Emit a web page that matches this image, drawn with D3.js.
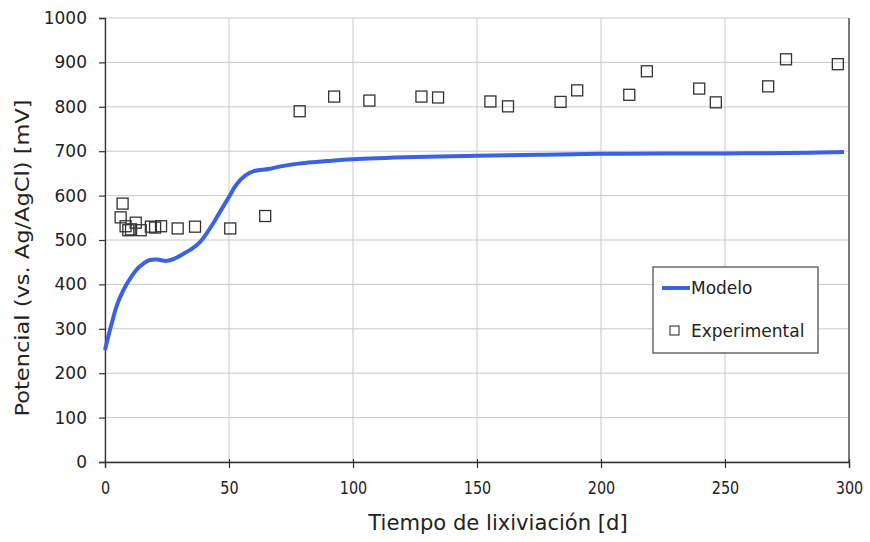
<!DOCTYPE html>
<html>
<head>
<meta charset="utf-8">
<script src="https://cdn.jsdelivr.net/npm/d3@7/dist/d3.min.js"></script>
<style>
  html, body { margin: 0; padding: 0; background: #fff; }
  svg { display: block; }
</style>
</head>
<body>
<svg id="chart" width="870" height="542"></svg>
<script>
// Modelo: simulated electrode potential over leaching time
const modelDays = [0, 2.5, 5, 7.5, 10, 13, 15.5, 18, 21, 25, 28, 32, 35, 38.4, 41, 43, 46, 49.8, 53, 56.5, 60, 66, 72, 78, 90, 100, 125, 150, 175, 200, 225, 250, 275, 298];
const modelMv   = [252, 308, 356, 388, 412, 435, 447, 455, 456, 453, 458, 470, 480, 496, 515, 532, 560, 595, 625, 645, 655, 660, 667, 672, 678, 682, 687, 690, 692, 694, 695, 695, 696, 698];

// Experimental: measured potentials
const expDays = [6.3, 7.1, 8.3, 9.4, 10.5, 12.4, 14.4, 18.5, 20.2, 22.6, 29.3, 36.3, 50.5, 64.6, 78.5, 92.4, 106.6, 127.6, 134.3, 155.4, 162.5, 183.7, 190.4, 211.4, 218.5, 239.6, 246.3, 267.4, 274.6, 295.5];
const expMv   = [551, 582, 531, 522, 524, 539, 522, 530, 528, 531, 526, 530, 526, 554, 790, 823, 814, 823, 821, 812, 801, 811, 837, 827, 880, 841, 810, 846, 907, 896];

const xTicks = [0, 50, 100, 150, 200, 250, 300];
const yTicks = [0, 100, 200, 300, 400, 500, 600, 700, 800, 900, 1000];

const xTitle = "Tiempo de lixiviación [d]";
const yTitle = "Potencial (vs. Ag/AgCl) [mV]";
const seriesNames = ["Modelo", "Experimental"];

const W = 870, H = 542;
const margin = { top: 18, right: 21, bottom: 80, left: 105 };
const pw = W - margin.left - margin.right;
const ph = H - margin.top - margin.bottom;

const svg = d3.select("#chart");
const g = svg.append("g").attr("transform", `translate(${margin.left},${margin.top})`);

const x = d3.scaleLinear().domain([0, 300]).range([0, pw]);
const y = d3.scaleLinear().domain([0, 1000]).range([ph, 0]);

const font = "'DejaVu Sans', Verdana, sans-serif";
const gridColor = "#c9c9c9";
const axisColor = "#333";

// gridlines
g.append("g").selectAll("line").data(yTicks).join("line")
  .attr("x1", 0).attr("x2", pw)
  .attr("y1", d => y(d)).attr("y2", d => y(d))
  .attr("stroke", gridColor).attr("stroke-width", 1);
g.append("g").selectAll("line").data(xTicks).join("line")
  .attr("x1", d => x(d)).attr("x2", d => x(d))
  .attr("y1", 0).attr("y2", ph)
  .attr("stroke", gridColor).attr("stroke-width", 1);

// right frame edge
g.append("line").attr("x1", pw).attr("x2", pw).attr("y1", 0).attr("y2", ph)
  .attr("stroke", axisColor).attr("stroke-width", 1.2);

// axes
const yAxis = g.append("g")
  .call(d3.axisLeft(y).tickValues(yTicks).tickSize(6).tickPadding(12).tickFormat(d3.format("d")));
const xAxis = g.append("g").attr("transform", `translate(0,${ph})`)
  .call(d3.axisBottom(x).tickValues(xTicks).tickSize(6).tickPadding(13).tickFormat(d3.format("d")));

[xAxis, yAxis].forEach(a => {
  a.attr("font-size", null).attr("font-family", null);
  a.select(".domain").attr("stroke", axisColor).attr("stroke-width", 1.3);
  a.selectAll(".tick line").attr("stroke", axisColor).attr("stroke-width", 1.2);
  a.selectAll(".tick text").attr("fill", "#222")
    .attr("font-family", font).attr("font-size", 17);
});
// x ticks cross the axis line
xAxis.selectAll(".tick line").attr("y1", -3).attr("y2", 6);

// narrowed x tick labels
const xSx = 0.8;
xAxis.selectAll(".tick text").attr("font-size", 18).attr("transform", `scale(${xSx},1)`);

// model curve
const line = d3.line().x((d, i) => x(modelDays[i])).y(d => y(d)).curve(d3.curveCatmullRom.alpha(0.5));
g.append("path").datum(modelMv)
  .attr("d", line)
  .attr("fill", "none")
  .attr("stroke", "#3a62e3")
  .attr("stroke-width", 4)
  .attr("stroke-linejoin", "round")
  .attr("stroke-linecap", "butt");

// experimental squares
const sq = 11;
g.append("g").selectAll("rect").data(expMv).join("rect")
  .attr("x", (d, i) => x(expDays[i]) - sq / 2)
  .attr("y", d => y(d) - sq / 2)
  .attr("width", sq).attr("height", sq)
  .attr("fill", "none")
  .attr("stroke", "#333").attr("stroke-width", 1.3);

// axis titles
svg.append("text")
  .attr("transform", `translate(498,530) scale(0.96,1)`)
  .attr("text-anchor", "middle")
  .attr("font-family", font).attr("font-size", 22).attr("fill", "#222")
  .text(xTitle);
svg.append("text")
  .attr("transform", `translate(29,258) rotate(-90) scale(1,0.85)`)
  .attr("text-anchor", "middle")
  .attr("font-family", font).attr("font-size", 22.5).attr("fill", "#222")
  .text(yTitle);

// legend
const lg = svg.append("g").attr("transform", "translate(653,267)");
lg.append("rect").attr("width", 165).attr("height", 86)
  .attr("fill", "#fff").attr("stroke", "#444").attr("stroke-width", 1.2);
lg.append("line").attr("x1", 9).attr("x2", 37).attr("y1", 21).attr("y2", 21)
  .attr("stroke", "#3a62e3").attr("stroke-width", 4);
lg.append("text").attr("x", 38).attr("y", 27)
  .attr("font-family", font).attr("font-size", 17).attr("fill", "#222")
  .text(seriesNames[0]);
lg.append("rect").attr("x", 17).attr("y", 59).attr("width", 9).attr("height", 9)
  .attr("fill", "#fff").attr("stroke", "#333").attr("stroke-width", 1.1);
lg.append("text").attr("x", 38).attr("y", 70)
  .attr("font-family", font).attr("font-size", 17).attr("fill", "#222")
  .text(seriesNames[1]);
</script>
</body>
</html>
